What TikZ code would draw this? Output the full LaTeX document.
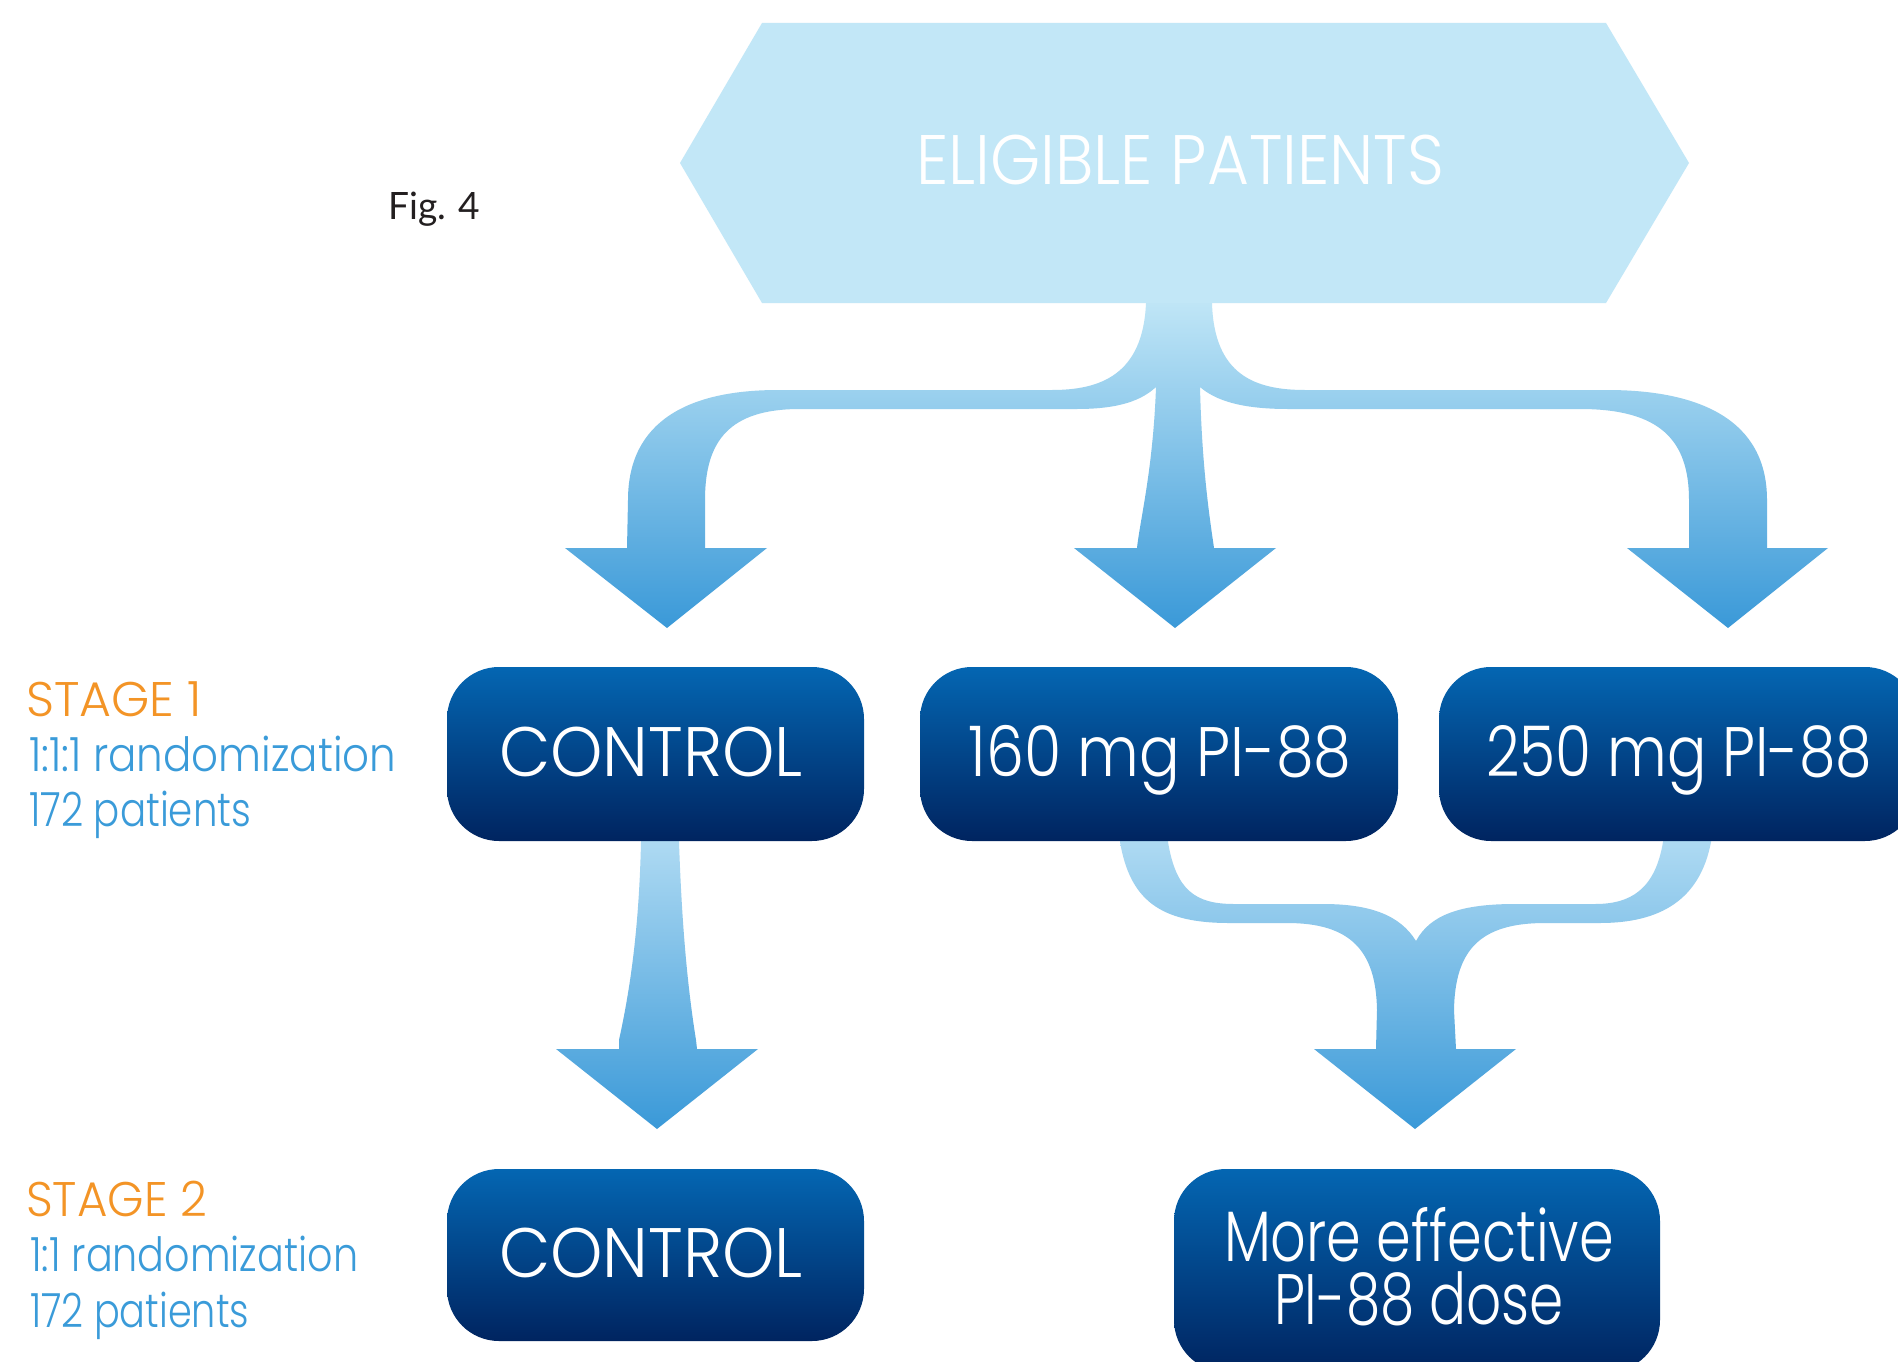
\documentclass[tikz,border=0pt]{standalone}
\usepackage{fontspec}
\usepackage{graphicx}
\IfFontExistsTF{Poppins Light}{\newfontfamily\futura{Poppins Light}}{\newfontfamily\futura{Poppins}}
\newfontfamily\figfont{Lato}
\definecolor{hexc}{RGB}{194,231,247}
\definecolor{tipc}{RGB}{58,153,216}
\definecolor{lowtop}{RGB}{176,219,243}
\definecolor{boxtop}{RGB}{4,102,178}
\definecolor{boxbot}{RGB}{0,36,96}
\definecolor{orangec}{RGB}{243,148,38}
\definecolor{bluec}{RGB}{58,155,217}
\definecolor{figc}{RGB}{35,31,32}
\newsavebox\ftbox
\newdimen\ftdim
\newcommand\ftext[4][\futura]{%
  \begingroup
  #1\fontsize{100pt}{120pt}\selectfont
  \ftdim=\fontcharht\font`H\relax
  \pgfmathsetmacro\ftsz{100*#2/\ftdim}%
  \fontsize{\ftsz pt}{\ftsz pt}\selectfont
  \sbox\ftbox{#4}%
  \ftdim=\wd\ftbox
  \pgfmathsetmacro\ftsc{#3/\ftdim}%
  \scalebox{\ftsc}[1]{\usebox\ftbox}%
  \endgroup}
\newcommand\twolines[3]{% #1 baseline distance, #2 first line, #3 second line
  \vtop{\baselineskip=#1\lineskiplimit=-1000pt\lineskip=0pt
    \hbox to 420pt{\hss#2\hss}\hbox to 420pt{\hss#3\hss}}}
\tikzset{
  boxnode/.style={rounded corners=52pt, top color=boxtop, bottom color=boxbot, draw=none, inner sep=0pt},
  lbl/.style={inner sep=0pt, anchor=base west},
  boxtext/.style={inner sep=0pt, anchor=base, text=white},
  toparrow/.style={top color=hexc, bottom color=tipc, draw=none},
  lowarrow/.style={top color=lowtop, bottom color=tipc, draw=none}
}
\begin{document}
\begin{tikzpicture}[x=1pt,y=-1pt]
\useasboundingbox (0,0) rectangle (1898,1362);
\clip (0,0) rectangle (1898,1362);
\fill[white] (0,0) rectangle (1898,1362);

% top three-way arrow
\path[toparrow] (1146,296) -- (1146,303) .. controls (1143,375) and (1100,390) .. (1052,390) -- (778,390)
  .. controls (690,390) and (628,420) .. (628,500) -- (627,548) -- (565,548) -- (667,628) -- (767,548) -- (705,548)
  -- (705,500) .. controls (705,440) and (730,409) .. (800,409) -- (1077,409)
  .. controls (1120,409) and (1142,400) .. (1156,387) .. controls (1153,470) and (1140,520) .. (1137,548)
  -- (1074,548) -- (1175,628) -- (1276,548) -- (1214,548)
  .. controls (1210,520) and (1202,470) .. (1200,387) .. controls (1215,400) and (1240,409) .. (1288,409)
  -- (1580,409) .. controls (1660,409) and (1689,440) .. (1689,500) -- (1689,548) -- (1627,548) -- (1728,628)
  -- (1828,548) -- (1767,548) -- (1767,500) .. controls (1767,420) and (1700,390) .. (1607,390) -- (1305,390)
  .. controls (1255,390) and (1214,375) .. (1212,303) -- (1212,296) -- cycle;

% control -> control arrow
\path[lowarrow] (641,836) -- (641,842) .. controls (639,930) and (630,990) .. (619,1040) -- (619,1049)
  -- (556,1049) -- (657,1129) -- (758,1049) -- (697,1049) -- (696,1040)
  .. controls (688,990) and (682,930) .. (679,842) -- (679,836) -- cycle;

% merge arrow
\path[lowarrow] (1120,836) -- (1120,842) .. controls (1130,900) and (1160,923) .. (1229,923) -- (1287,923)
  .. controls (1350,923) and (1376,950) .. (1377,1010) -- (1376,1049) -- (1314,1049) -- (1415,1129)
  -- (1516,1049) -- (1456,1049) -- (1454,1010) .. controls (1455,950) and (1480,923) .. (1545,923)
  -- (1600,923) .. controls (1660,923) and (1700,900) .. (1711,842) -- (1711,836) -- (1663,836)
  -- (1663,842) .. controls (1655,890) and (1630,904) .. (1595,904) -- (1515,904)
  .. controls (1460,904) and (1430,915) .. (1416,941) .. controls (1400,915) and (1370,904) .. (1323,904)
  -- (1234,904) .. controls (1195,904) and (1176,890) .. (1168,842) -- (1168,836) -- cycle;

% hexagon
\path[fill=hexc] (680,163) -- (762,23) -- (1606,23) -- (1689,163) -- (1606,303) -- (762,303) -- cycle;
\node[boxtext] (elig) at (1180,184) {\ftext{49}{528}{ELIGIBLE PATIENTS}};

\node[lbl, text=figc] (fig) at (388,219) {\ftext[\figfont]{27}{92}{Fig. 4}};

% boxes
\node[boxnode, minimum width=417pt, minimum height=174pt] (ctl1) at (655.5,754) {};
\node[boxnode, minimum width=478pt, minimum height=174pt] (d160) at (1159,754) {};
\node[boxnode, minimum width=478pt, minimum height=174pt] (d250) at (1678,754) {};
\node[boxnode, minimum width=417pt, minimum height=172pt] (ctl2) at (655.5,1255) {};
\node[boxnode, minimum width=486pt, minimum height=203pt] (best) at (1417,1270.5) {};

\node[boxtext] (t1) at (651,776) {\ftext{49}{304}{CONTROL}};
\node[boxtext] (t2) at (1160,776) {\ftext{49}{383}{160 mg PI-88}};
\node[boxtext] (t3) at (1679,776) {\ftext{49}{386}{250 mg PI-88}};
\node[boxtext] (t4) at (651,1277) {\ftext{49}{304}{CONTROL}};
\node[boxtext] (t5) at (1419,1261) {\twolines{63pt}{\ftext{50}{390}{More effective}}{\ftext{50}{290}{PI-88 dose}}};

% stage labels
\node[lbl, text=orangec] (s1) at (26,716) {\ftext{34}{176}{STAGE 1}};
\node[lbl, text=bluec] (s1a) at (29,771) {\ftext{33}{367}{1:1:1 randomization}};
\node[lbl, text=bluec] (s1b) at (29,826) {\ftext{33}{222}{172 patients}};
\node[lbl, text=orangec] (s2) at (26,1216) {\ftext{34}{181}{STAGE 2}};
\node[lbl, text=bluec] (s2a) at (30,1271) {\ftext{33}{328}{1:1 randomization}};
\node[lbl, text=bluec] (s2b) at (30,1327) {\ftext{33}{219}{172 patients}};
\end{tikzpicture}
\end{document}
